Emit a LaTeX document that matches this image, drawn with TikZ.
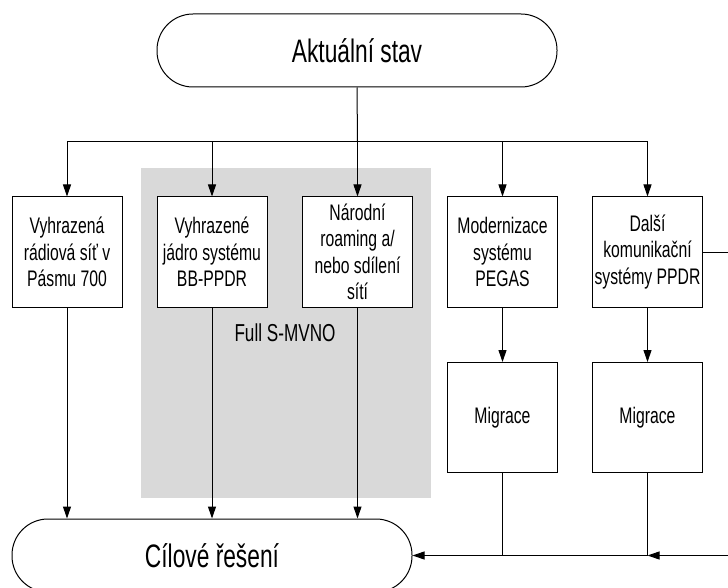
\documentclass[tikz,border=0pt]{standalone}
\usepackage{fontspec}
\setmainfont{Liberation Sans}[FakeStretch=0.7]
\usetikzlibrary{arrows.meta}
\definecolor{sedapole}{RGB}{217,217,217}
\tikzset{
  terminal/.style={draw, fill=white, line width=1pt, rounded corners=36pt, minimum width=400pt, minimum height=73pt, font=\fontsize{32.5}{36}\selectfont},
  stepbox/.style={draw, fill=white, line width=1pt, minimum width=110pt, minimum height=110pt, inner sep=0pt, align=center, font=\fontsize{22.5}{26.5}\selectfont},
  link/.style={line width=1pt, -{Triangle[length=12pt,width=8pt]}},
}
\begin{document}
\begin{tikzpicture}[x=1pt,y=-1pt]
\useasboundingbox (0,0) rectangle (728,588);
\clip (0,0) rectangle (728,588);
\fill[sedapole] (141,168) rectangle (431,498);
\node[font=\fontsize{24.5}{28}\selectfont] (mvno) at (285,333) {Full S-MVNO};
\node[terminal] (stav) at (357,50.5) {Aktuální stav};
\node[stepbox] (pasmo) at (67,252) {Vyhrazená\\rádiová síť v\\Pásmu 700};
\node[stepbox] (jadro) at (212,252) {Vyhrazené\\jádro systému\\BB-PPDR};
\node[stepbox] (roaming) at (357.5,252) {Národní\\roaming a/\\nebo sdílení\\sítí};
\node[stepbox] (pegas) at (502.5,252) {Modernizace\\systému\\PEGAS};
\node[stepbox] (dalsi) at (647.5,252) {Další\\komunikační\\systémy PPDR};
\node[stepbox] (migrace1) at (502.5,417.5) {Migrace};
\node[stepbox] (migrace2) at (647.5,417.5) {Migrace};
\node[terminal] (cil) at (212,555.5) {Cílové řešení};
\coordinate (rozbocka) at (357.5,142);
\coordinate (okraj) at (728,252);
\coordinate (vpravo) at (728,555.5);
% rozvetveni shora
\draw[line width=1pt] (stav.south) -- (rozbocka);
\foreach \n in {pasmo,jadro,roaming,pegas,dalsi}
  \draw[link] (rozbocka) -| (\n.north);
% do ciloveho reseni
\foreach \n in {pasmo,jadro,roaming}
  \draw[link] (\n.south) -- (\n.south |- cil.north);
\draw[link] (pegas) -- (migrace1);
\draw[link] (dalsi) -- (migrace2);
\draw[link] (migrace1.south) |- (cil.east);
\draw[line width=1pt] (migrace2.south) |- (migrace1.south |- cil.east);
\draw[link] (vpravo) -- (migrace2.south |- cil.east);
\draw[line width=1pt] (dalsi.east) -- (okraj);
\end{tikzpicture}
\end{document}
